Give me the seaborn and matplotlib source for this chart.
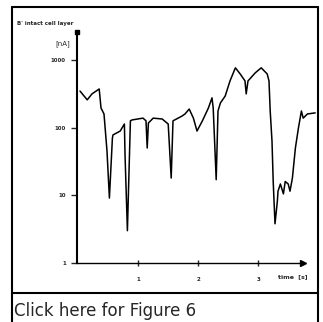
import seaborn as sns
import matplotlib.pyplot as plt
import pandas as pd
from matplotlib.lines import Line2D

# trace (time in s, current on log scale)
time = [0.03, 0.15, 0.23, 0.35, 0.38, 0.43, 0.48, 0.52, 0.57, 0.58,
        0.70, 0.77, 0.78, 0.82, 0.87, 0.90, 1.08, 1.13, 1.15, 1.17,
        1.25, 1.40, 1.50, 1.55, 1.58, 1.73, 1.78, 1.85, 1.92, 1.98,
        2.07, 2.17, 2.23, 2.25, 2.30, 2.33, 2.37, 2.45, 2.53, 2.62,
        2.70, 2.78, 2.80, 2.83, 2.95, 3.05, 3.15, 3.18, 3.20, 3.23,
        3.25, 3.28, 3.32, 3.33, 3.37, 3.42, 3.45, 3.50, 3.53, 3.57,
        3.62, 3.67, 3.72, 3.75, 3.82, 3.95]
current = [347, 257, 315, 372, 195, 159, 45, 9.1, 70, 78,
           89, 113, 41, 3.0, 126, 130, 138, 126, 50, 117,
           138, 134, 113, 18, 126, 148, 159, 188, 138, 89,
           126, 195, 275, 195, 17, 176, 231, 293, 489, 764,
           620, 489, 315, 489, 643, 764, 620, 489, 176, 63,
           16, 3.8, 8.3, 11.5, 14.7, 10.5, 16, 14.7, 11.5, 18,
           50, 98, 176, 138, 159, 165]

y_ticks = [1, 10, 100, 1000]
y_tick_labels = ["1", "10", "100", "1000"]
x_ticks = [1, 2, 3]
x_tick_labels = ["1", "2", "3"]

df = pd.DataFrame({"time": time, "current": current})

sns.set_theme(style="white")
plt.rcParams['font.family'] = ['DejaVu Sans']

fig = plt.figure(figsize=(3.23, 3.22), dpi=100)
ax = fig.add_axes([77 / 323, 1 - 263 / 322, 239.4 / 323, 231 / 322])

sns.lineplot(data=df, x="time", y="current", color="black", linewidth=1.1,
             sort=False, estimator=None, ax=ax)

ax.set_yscale("log")
ax.set_ylim(1, 2584)
ax.set_xlim(-0.02, 3.97)

ax.set_yticks(y_ticks)
ax.set_yticklabels(y_tick_labels, fontweight="bold")
ax.set_xticks(x_ticks)
ax.set_xticklabels(x_tick_labels, fontweight="bold")
ax.minorticks_off()
ax.tick_params(axis="y", direction="out", length=4, width=1, pad=4, labelsize=4, left=True)
ax.tick_params(axis="x", direction="inout", length=4, width=1, pad=8, labelsize=4, bottom=True)
ax.set_xlabel("")
ax.set_ylabel("")

for side in ["top", "right"]:
    ax.spines[side].set_visible(False)
ax.spines["left"].set_linewidth(1.5)
ax.spines["bottom"].set_linewidth(1.0)
ax.spines["left"].set_color("black")
ax.spines["bottom"].set_color("black")
ax.spines["bottom"].set_bounds(-0.02, 3.75)

# axis arrow heads
ax.plot(0, 1, marker="s", markersize=2.5, color="black",
        transform=ax.transAxes, clip_on=False)
ax.plot(3.75, 0, marker=">", markersize=4, color="black",
        transform=ax.get_xaxis_transform(), clip_on=False)

ax.text(-0.03, 0.95, "[nA]", transform=ax.transAxes, fontsize=5, ha="right", va="center")
ax.text(0.90, -0.06, "time  [s]", transform=ax.transAxes, fontsize=4.5,
        ha="center", va="center", fontweight="bold")
fig.text(17 / 323, 1 - 23 / 322, "B' intact cell layer", fontsize=4, fontweight="bold",
         ha="left", va="center")

# outer frame and caption
frame_kw = dict(color="black", linewidth=1.5, transform=fig.transFigure)
fig.add_artist(Line2D([12 / 323, 318 / 323], [1 - 7 / 322, 1 - 7 / 322], **frame_kw))
fig.add_artist(Line2D([12 / 323, 12 / 323], [0, 1 - 7 / 322], **frame_kw))
fig.add_artist(Line2D([318 / 323, 318 / 323], [0, 1 - 7 / 322], **frame_kw))
fig.add_artist(Line2D([12 / 323, 318 / 323], [1 - 293 / 322, 1 - 293 / 322], **frame_kw))
fig.text(14 / 323, 1 - 311 / 322, "Click here for Figure 6", fontsize=12,
         ha="left", va="center")

fig.savefig("out.png", dpi=100)
